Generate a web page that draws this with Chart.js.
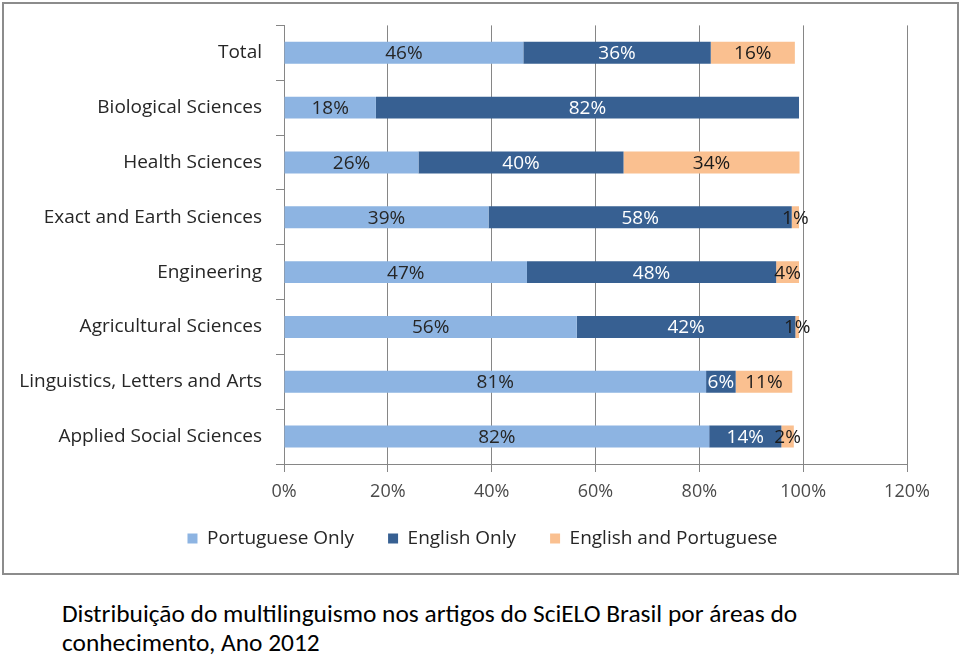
<!DOCTYPE html>
<html>
<head>
<meta charset="utf-8">
<script src="https://cdn.jsdelivr.net/npm/chart.js@4.4.1/dist/chart.umd.min.js"></script>
<style>
  body { margin: 0; background: #fff; width: 960px; height: 660px; position: relative; overflow: hidden; }
  #frame { position: absolute; left: 2px; top: 2px; width: 953px; height: 569px; border: 2px solid #8c8c8c; }
  #wrap { position: absolute; left: 0; top: 0; width: 960px; height: 575px; }
  #caption { position: absolute; left: 62px; top: 599px; font-family: Calibri, Carlito, Lato, sans-serif; font-size: 25.4px; line-height: 29px; color: #000; }
</style>
</head>
<body>
<div id="frame"></div>
<div id="wrap"><canvas id="chart" width="960" height="575"></canvas></div>
<div id="caption">Distribuição do multilinguismo nos artigos do SciELO Brasil por áreas do<br>conhecimento, Ano 2012</div>
<script>
// categories and series (percent of articles)
const categories = ['Total', 'Biological Sciences', 'Health Sciences', 'Exact and Earth Sciences',
  'Engineering', 'Agricultural Sciences', 'Linguistics, Letters and Arts', 'Applied Social Sciences'];
const portugueseOnly = [46.1, 17.7, 25.9, 39.4, 46.8, 56.4, 81.3, 81.9];
const englishOnly = [36.1, 81.5, 39.5, 58.4, 48.0, 42.1, 5.7, 13.9];
const englishAndPortuguese = [16.2, 0, 33.9, 1.4, 4.4, 0.7, 10.9, 2.4];
const seriesNames = ['Portuguese Only', 'English Only', 'English and Portuguese'];
const xTicks = [0, 20, 40, 60, 80, 100, 120];

const FONT = '"Open Sans", sans-serif';
const gridGray = '#868686';

// draws the percentage inside each bar segment
const barLabels = {
  id: 'barLabels',
  afterDatasetsDraw(chart) {
    const ctx = chart.ctx;
    ctx.save();
    ctx.font = '19px ' + FONT;
    ctx.textAlign = 'center';
    ctx.textBaseline = 'middle';
    chart.data.datasets.forEach((ds, i) => {
      const meta = chart.getDatasetMeta(i);
      meta.data.forEach((bar, j) => {
        const v = ds.data[j];
        if (!v) return;
        ctx.fillStyle = ds.labelColor;
        ctx.fillText(Math.round(v) + '%', (bar.x + bar.base) / 2, bar.y + 1);
      });
    });
    ctx.restore();
  }
};

// legend sits centred on the whole frame, a bit closer to the axis
const legendShift = {
  id: 'legendShift',
  afterLayout(chart) {
    const lg = chart.legend;
    lg.left += 29;
    lg.right += 29;
    lg.top -= 17;
    lg.bottom -= 17;
  }
};

const chart = new Chart(document.getElementById('chart'), {
  type: 'bar',
  data: {
    labels: categories,
    datasets: [
      { label: seriesNames[0], data: portugueseOnly, backgroundColor: '#8db4e2', labelColor: '#262626' },
      { label: seriesNames[1], data: englishOnly, backgroundColor: '#376092', labelColor: '#ffffff' },
      { label: seriesNames[2], data: englishAndPortuguese, backgroundColor: '#fac090', labelColor: '#1a1a1a' }
    ]
  },
  options: {
    indexAxis: 'y',
    responsive: false,
    animation: false,
    devicePixelRatio: 1,
    categoryPercentage: 1,
    barPercentage: 0.4,
    layout: { padding: { left: 0, top: 25, right: 53, bottom: 0 } },
    scales: {
      x: {
        stacked: true,
        min: 0,
        max: 120,
        afterBuildTicks: s => { s.ticks = xTicks.map(v => ({ value: v })); },
        afterFit: s => { s.height = 48; },
        grid: { color: gridGray, tickLength: 8 },
        border: { color: gridGray },
        ticks: { color: '#4a4a4a', font: { family: FONT, size: 18 }, padding: 9, callback: v => v + '%' }
      },
      y: {
        stacked: true,
        afterFit: s => { s.width = 284; },
        grid: { display: true, drawOnChartArea: false, offset: true, color: gridGray, tickLength: 8 },
        border: { color: gridGray },
        ticks: { color: '#262626', font: { family: FONT, size: 19 }, padding: 14 }
      }
    },
    plugins: {
      legend: {
        position: 'bottom',
        labels: { boxWidth: 10, boxHeight: 10, padding: 34, color: '#262626', font: { family: FONT, size: 19 } }
      },
      tooltip: { enabled: false }
    }
  },
  plugins: [barLabels, legendShift]
});
</script>
</body>
</html>
